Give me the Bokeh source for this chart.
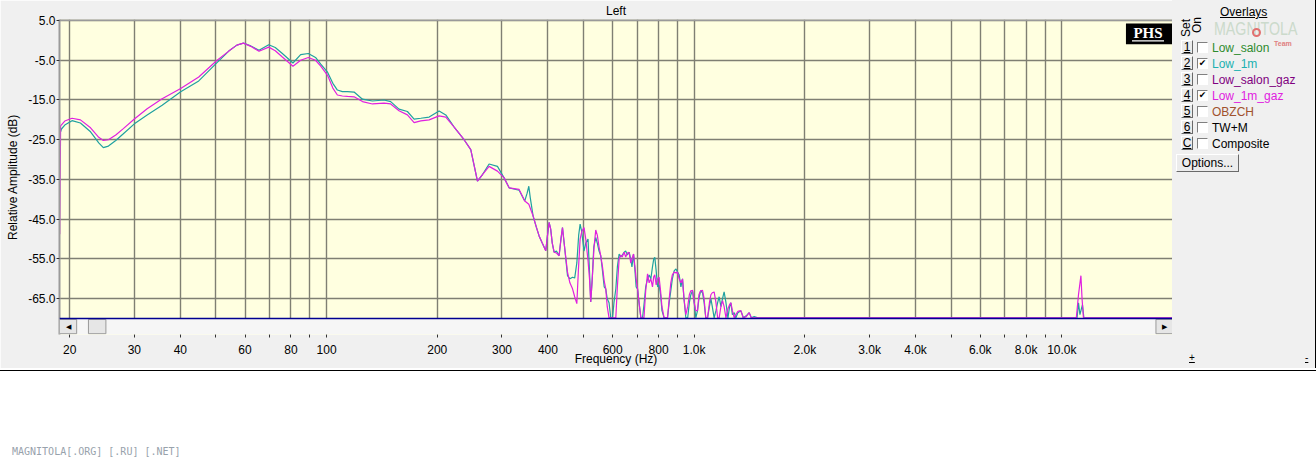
from bokeh.plotting import figure
from bokeh.models import (ColumnDataSource, FixedTicker, Range1d, Span, BoxAnnotation,
                          Label, Div, CustomJSTickFormatter)
from bokeh.layouts import row, column
from bokeh.embed import file_html
from bokeh.resources import INLINE

# ---------------- data (frequency Hz, relative amplitude dB) ----------------
low_1m = [
    (18.9, -23.0), (19.0, -22.3), (19.4, -21.3), (20.3, -20.2), (21.4, -20.8), (22.8, -23.0),
    (24.0, -25.8), (24.7, -27.0), (25.5, -26.6), (26.7, -25.2), (28.0, -23.5), (30.0, -21.0),
    (32.5, -18.8), (35.7, -16.3), (40.1, -12.9), (44.9, -10.2), (50.1, -5.8), (54.2, -2.7),
    (57.0, -1.2), (59.4, -0.7), (62.2, -1.4), (65.5, -2.5), (69.6, -1.1), (72.5, -1.8),
    (75.8, -3.3), (81.0, -5.7), (85.0, -3.6), (89.2, -3.3), (93.3, -4.3), (96.4, -6.0),
    (100.6, -8.0), (104.0, -10.8), (107.0, -12.5), (110.4, -12.9), (114.0, -12.9), (118.8, -13.0),
    (125.2, -14.8), (133.3, -15.25), (143.3, -15.0), (149.4, -15.4), (157.4, -17.3), (165.9, -17.9),
    (173.0, -19.8), (180.4, -19.6), (190.1, -19.3), (202.3, -17.75), (211.0, -18.75), (222.3, -21.8),
    (236.6, -25.0), (246.7, -27.5), (257.3, -35.4), (265.5, -33.75), (276.7, -31.1), (291.6, -31.7),
    (304.0, -34.6), (313.7, -37.1), (334.0, -37.7), (346.0, -40.4), (351.0, -38.5), (354.9, -36.7),
    (358.0, -39.5), (364.6, -44.2), (372.0, -47.0), (378.5, -49.2), (386.0, -51.0), (394.7, -52.9),
    (399.0, -49.0), (403.0, -45.8), (407.0, -47.5), (411.0, -51.0), (415.8, -53.3), (422.0, -53.0),
    (429.0, -54.2), (434.0, -50.0), (438.2, -47.1), (444.0, -52.0), (452.2, -59.2), (459.0, -60.0),
    (466.7, -59.6), (473.0, -59.8), (479.4, -56.0), (485.0, -49.0), (489.4, -46.25), (494.0, -48.0),
    (501.5, -53.0), (507.0, -51.0), (514.2, -50.0), (519.0, -58.0), (523.0, -65.8), (528.0, -60.0),
    (533.0, -52.0), (539.7, -49.6), (545.0, -51.0), (551.0, -53.0), (556.9, -54.2), (563.0, -58.0),
    (569.0, -62.0), (574.6, -62.5), (580.0, -65.0), (586.6, -66.0), (593.0, -69.8), (599.5, -69.8),
    (605.0, -66.0), (612.0, -62.5), (618.0, -57.0), (624.8, -53.75), (631.0, -54.5), (637.0, -54.0),
    (644.7, -53.3), (651.0, -53.0), (658.0, -54.0), (665.2, -53.3), (672.0, -55.0), (677.0, -57.0),
    (683.8, -53.75), (690.0, -58.0), (695.0, -62.0), (701.2, -62.5), (710.0, -67.0), (716.0, -69.8),
    (723.5, -69.8), (731.0, -66.0), (738.0, -62.0), (746.5, -60.0), (754.0, -59.0), (762.1, -60.0),
    (770.0, -57.0), (776.0, -55.0), (781.3, -54.6), (788.0, -58.0), (795.0, -62.0), (802.6, -61.5),
    (810.0, -64.0), (817.0, -68.0), (828.1, -69.8), (846.0, -69.8), (855.0, -66.0), (863.7, -63.0),
    (872.0, -60.0), (882.0, -58.0), (892.0, -57.5), (900.7, -58.3), (910.0, -59.0), (920.0, -62.0),
    (929.4, -60.0), (938.0, -65.0), (948.9, -69.8), (960.0, -69.8), (970.0, -66.0), (979.0, -64.0),
    (989.5, -63.0), (1000.0, -66.0), (1010.0, -69.8), (1020.9, -68.0), (1030.0, -65.0), (1041.0, -63.0),
    (1053.4, -63.5), (1064.0, -66.0), (1075.0, -69.8), (1087.0, -69.8), (1100.0, -67.0), (1110.0, -65.0),
    (1120.0, -67.0), (1133.0, -69.8), (1146.0, -68.0), (1158.0, -66.0), (1169.0, -64.5), (1182.0, -67.0),
    (1194.0, -65.0), (1206.0, -63.3), (1220.0, -66.0), (1235.0, -69.8), (1248.0, -67.0), (1258.0, -66.0),
    (1270.0, -69.0), (1285.0, -68.5), (1298.0, -69.8), (1315.0, -68.5), (1339.0, -68.0), (1360.0, -69.8),
    (1385.0, -69.3), (1411.0, -68.5), (1430.0, -69.8), (1456.0, -69.5), (1490.0, -69.8), (11000.0, -69.8),
    (11100.0, -66.0), (11200.0, -69.0), (11380.0, -66.5), (11480.0, -69.8), (20000.0, -69.8),
]

low_1m_gaz = [
    (18.8, -48.8), (18.9, -21.5), (19.4, -20.3), (20.3, -19.6), (21.4, -20.0), (22.8, -22.0),
    (24.0, -24.4), (24.7, -25.2), (25.5, -25.0), (26.7, -23.8), (28.0, -22.2), (30.0, -19.8),
    (32.5, -17.2), (35.7, -14.7), (40.1, -12.1), (44.9, -9.2), (50.1, -5.2), (54.2, -2.7),
    (57.0, -1.2), (59.4, -0.7), (62.2, -1.5), (65.5, -2.75), (69.6, -1.7), (72.5, -2.6),
    (75.8, -4.2), (81.0, -6.5), (85.0, -5.0), (89.2, -4.3), (93.3, -5.0), (96.4, -6.5),
    (100.6, -8.8), (104.0, -12.0), (107.0, -13.75), (110.4, -14.0), (114.0, -14.1), (118.8, -14.2),
    (125.2, -15.4), (133.3, -16.0), (143.3, -15.8), (149.4, -16.0), (157.4, -17.7), (165.9, -18.75),
    (173.0, -20.7), (180.4, -20.25), (190.1, -20.0), (202.3, -19.0), (211.0, -19.3), (222.3, -21.8),
    (236.6, -25.0), (246.7, -27.5), (257.3, -35.4), (265.5, -33.75), (276.7, -31.7), (291.6, -32.9),
    (304.0, -34.6), (313.7, -37.1), (334.0, -37.5), (346.0, -40.4), (354.9, -41.25), (364.6, -44.2),
    (372.0, -47.0), (378.5, -49.2), (386.0, -51.0), (394.7, -52.9), (399.0, -49.0), (403.0, -45.8),
    (407.0, -47.5), (411.0, -51.0), (415.8, -53.3), (422.0, -53.5), (429.0, -54.2), (434.0, -50.0),
    (438.2, -47.1), (444.0, -52.0), (452.2, -58.3), (459.0, -61.0), (466.7, -62.5), (473.0, -64.5),
    (479.4, -66.25), (484.0, -58.0), (489.4, -50.0), (495.0, -48.0), (501.5, -47.1), (507.0, -50.0),
    (514.2, -55.4), (519.0, -60.0), (523.0, -65.8), (528.0, -60.0), (534.0, -52.0), (539.7, -47.7),
    (545.0, -49.0), (551.0, -52.0), (556.9, -54.2), (563.0, -57.0), (569.0, -60.5), (574.6, -62.5),
    (580.0, -67.0), (586.6, -69.8), (599.5, -69.8), (612.0, -69.8), (618.0, -62.0), (624.8, -55.0),
    (631.0, -54.0), (637.0, -54.5), (644.7, -53.3), (651.0, -54.5), (658.0, -53.5), (665.2, -53.3),
    (672.0, -56.0), (677.0, -55.0), (683.8, -53.75), (690.0, -57.0), (695.0, -60.0), (701.2, -62.5),
    (710.0, -67.0), (716.0, -69.8), (730.0, -69.8), (738.0, -63.0), (746.5, -58.75), (754.0, -61.0),
    (762.1, -60.0), (770.0, -62.0), (776.0, -59.5), (781.3, -59.0), (788.0, -61.5), (795.0, -60.0),
    (802.6, -59.6), (810.0, -63.0), (817.0, -67.0), (828.1, -69.8), (846.0, -69.8), (855.0, -65.0),
    (863.7, -61.0), (872.0, -59.0), (882.0, -58.3), (892.0, -58.5), (900.7, -58.3), (910.0, -60.0),
    (920.0, -61.0), (929.4, -60.0), (938.0, -65.0), (948.9, -69.0), (960.0, -67.0), (970.0, -64.0),
    (979.0, -63.0), (989.5, -62.9), (1000.0, -66.0), (1010.0, -68.0), (1020.9, -68.0), (1030.0, -64.0),
    (1041.0, -63.0), (1053.4, -62.9), (1064.0, -65.0), (1075.0, -69.8), (1087.0, -69.8), (1100.0, -66.0),
    (1110.0, -64.0), (1120.0, -63.5), (1133.0, -63.3), (1146.0, -66.0), (1158.0, -69.8), (1169.0, -69.8),
    (1182.0, -67.0), (1194.0, -65.5), (1206.0, -67.0), (1220.0, -69.8), (1235.0, -67.5), (1248.0, -66.5),
    (1258.0, -66.0), (1270.0, -68.0), (1285.0, -69.8), (1298.0, -69.0), (1315.0, -68.2), (1339.0, -68.0),
    (1360.0, -69.8), (1385.0, -69.5), (1411.0, -68.5), (1430.0, -69.8), (1520.0, -69.8), (10950.0, -69.8),
    (11100.0, -64.0), (11270.0, -59.2), (11350.0, -65.0), (11450.0, -69.8), (20000.0, -69.8),
]

x_ticks = [20, 30, 40, 50, 60, 70, 80, 90, 100, 200, 300, 400, 500, 600, 700, 800, 900,
           1000, 2000, 3000, 4000, 5000, 6000, 7000, 8000, 9000, 10000, 20000]
x_tick_labels = ["20", "30", "40", "", "60", "", "80", "", "100", "200", "300", "400", "",
                 "600", "", "800", "", "1.0k", "2.0k", "3.0k", "4.0k", "", "6.0k", "", "8.0k",
                 "", "10.0k", ""]
y_ticks = [5, -5, -15, -25, -35, -45, -55, -65]
y_tick_labels = ["5.0", "-5.0", "-15.0", "-25.0", "-35.0", "-45.0", "-55.0", "-65.0"]

overlay_keys = ["1", "2", "3", "4", "5", "6", "C"]
overlay_names = ["Low_salon", "Low_1m", "Low_salon_gaz", "Low_1m_gaz", "OBZCH", "TW+M", "Composite"]
overlay_on = [False, True, False, True, False, False, False]
overlay_colors = ["#2E8B2E", "#20B0B0", "#800080", "#E020E0", "#A0522D", "#000000", "#000000"]

TEAL = "#20A0A0"
MAGENTA = "#E020E0"
FONT = "Liberation Sans"
BG = "#F0F0F0"
H_TOP = 368

# ---------------- main chart ----------------
p = figure(width=1172, height=H_TOP, x_axis_type="log",
           x_range=Range1d(18.77, 20000), y_range=Range1d(-74, 5.25),
           output_backend="svg", toolbar_location=None,
           min_border_left=59, min_border_right=0, min_border_top=19, min_border_bottom=H_TOP - 336)
p.background_fill_color = "#FFFFE0"
p.border_fill_color = BG
p.outline_line_color = None

p.title.text = "Left"
p.title.align = "center"
p.title.text_font = FONT
p.title.text_font_size = "12px"
p.title.text_font_style = "normal"
p.title.text_color = "black"
p.title.standoff = 3
p.title.offset = 0

p.xaxis.ticker = FixedTicker(ticks=x_ticks)
p.xaxis.formatter = CustomJSTickFormatter(
    args=dict(t=x_ticks, l=x_tick_labels),
    code="for (let i = 0; i < t.length; i++) { if (Math.abs(t[i] - tick) < 1e-6 * t[i]) return l[i]; } return '';")
p.yaxis.ticker = FixedTicker(ticks=y_ticks)
p.yaxis.formatter = CustomJSTickFormatter(
    args=dict(t=y_ticks, l=y_tick_labels),
    code="for (let i = 0; i < t.length; i++) { if (Math.abs(t[i] - tick) < 1e-6) return l[i]; } return '';")

for ax in (p.xaxis[0], p.yaxis[0]):
    ax.major_label_text_font = FONT
    ax.major_label_text_font_size = "12px"
    ax.major_label_text_color = "#000000"
    ax.axis_label_text_font = FONT
    ax.axis_label_text_font_size = "12px"
    ax.axis_label_text_font_style = "normal"
    ax.axis_label_text_color = "#000000"
    ax.minor_tick_line_color = None
    ax.major_tick_line_color = "#303030"
    ax.major_tick_in = 0
    ax.major_tick_out = 3
p.xaxis.axis_label = "Frequency (Hz)"
p.xaxis.axis_line_color = None
p.xaxis.major_label_standoff = 5
p.xaxis.axis_label_standoff = -8
p.yaxis.axis_label = "Relative Amplitude (dB)"
p.yaxis.axis_line_color = "#9A9A9A"
p.yaxis.axis_line_width = 2
p.yaxis.major_label_standoff = 1
p.yaxis.axis_label_standoff = 5

p.grid.grid_line_color = "#7F7F73"
p.grid.grid_line_width = 1.4

src_a = ColumnDataSource(dict(f=[v[0] for v in low_1m], db=[v[1] for v in low_1m]))
src_b = ColumnDataSource(dict(f=[v[0] for v in low_1m_gaz], db=[v[1] for v in low_1m_gaz]))
p.line("f", "db", source=src_a, line_color=TEAL, line_width=1.2)
p.line("f", "db", source=src_b, line_color=MAGENTA, line_width=1.2)

# frame decorations: top border, scroll bar, bottom blue line
p.add_layout(Span(location=5.1, dimension="width", line_color="#9A9A9A", line_width=2))
p.add_layout(BoxAnnotation(bottom=-74, top=-70, fill_color="#F6F6F6", fill_alpha=1, line_color=None))
for l_, r_ in ((18.77, 20.9), (22.5, 25.1), (18030, 20000)):
    p.add_layout(BoxAnnotation(left=l_, right=r_, bottom=-73.8, top=-70.2, fill_color="#E6E6E6",
                               fill_alpha=1, line_color="#9A9A9A", line_alpha=1))
p.add_layout(Label(x=19.8, y=-72, text="\u25C0", text_font_size="7px", text_align="center",
                   text_baseline="middle", text_color="black"))
p.add_layout(Label(x=19020, y=-72, text="\u25B6", text_font_size="7px", text_align="center",
                   text_baseline="middle", text_color="black"))
p.add_layout(Span(location=-70, dimension="width", line_color="#000090", line_width=1.5))

# PHS badge
p.add_layout(BoxAnnotation(left=14942, right=20000, top=4.25, bottom=-1.0, fill_color="black",
                           fill_alpha=1, line_color=None))
p.add_layout(Label(x=17154, y=1.9, text="PHS", text_font="Liberation Serif", text_font_style="bold",
                   text_font_size="15px", text_color="white", text_align="center", text_baseline="middle"))
p.add_layout(BoxAnnotation(left=15516, right=18966, top=0.05, bottom=-0.3, fill_color="white",
                           fill_alpha=1, line_color=None))

# ---------------- right overlay panel (HTML) ----------------
BTN = ("position:absolute; box-sizing:border-box; border:1px solid; "
       "border-color:#FFFFFF #6A6A6A #6A6A6A #FFFFFF; background:#ECECEC; text-align:center;")
parts = []
parts.append('<div style="position:absolute; left:42px; top:20px; height:19px; font-size:18px; line-height:19px; '
             'color:#CBDACB; transform:scaleX(0.79); transform-origin:left top; white-space:nowrap;">'
             'MAGNITOLA</div>')
parts.append('<div style="position:absolute; left:80px; top:28px; width:9px; height:9px; '
             'border:2px solid #E27070; border-radius:50%;"></div>')
parts.append('<div style="position:absolute; left:102px; top:40px; font-size:7px; line-height:8px; '
             'font-weight:bold; color:#E08080;">Team</div>')
parts.append('<div style="position:absolute; left:48px; top:5px; text-decoration:underline;">Overlays</div>')
parts.append('<div style="position:absolute; left:5px; top:21px; width:18px; text-align:center; '
             'transform:rotate(-90deg);">Set</div>')
parts.append('<div style="position:absolute; left:17px; top:18px; width:16px; text-align:center; '
             'transform:rotate(-90deg);">On</div>')
for i, (k, nm, on, c) in enumerate(zip(overlay_keys, overlay_names, overlay_on, overlay_colors)):
    top = 40 + 16 * i
    parts.append(f'<div style="{BTN} left:9px; top:{top}px; width:12px; height:14px; line-height:12px; '
                 f'text-decoration:underline;">{k}</div>')
    mark = "\u2714" if on else ""
    parts.append(f'<div style="position:absolute; box-sizing:border-box; left:25px; top:{top + 2}px; '
                 f'width:11px; height:11px; border:1px solid; border-color:#808080 #FFFFFF #FFFFFF #808080; '
                 f'background:#FFFFFF; font-size:9px; line-height:9px; text-align:center; '
                 f'font-family:\'DejaVu Sans\';">{mark}</div>')
    parts.append(f'<div style="position:absolute; left:40px; top:{top + 1}px; color:{c}; '
                 f'white-space:nowrap;">{nm}</div>')
parts.append(f'<div style="{BTN} left:4px; top:154px; width:63px; height:18px; line-height:16px;">Options...</div>')
parts.append('<div style="position:absolute; left:17px; top:351px; font-size:10px; text-decoration:underline;">+</div>')
parts.append('<div style="position:absolute; left:133px; top:351px; font-size:10px; text-decoration:underline;">-</div>')

panel = Div(text=(f'<div style="position:relative; width:144px; height:{H_TOP}px; box-sizing:border-box; '
                  f'background:{BG}; border-right:1px solid #000; font-family:\'{FONT}\'; font-size:12px; '
                  f'line-height:14px; color:#000;">' + "".join(parts) + '</div>'),
            width=144, height=H_TOP, margin=(0, 0, 0, 0))

footer = Div(text='<div style="width:1316px; height:1px; background:#000;"></div>'
                  '<div style="position:relative; top:75px; left:12px; font-family:\'DejaVu Sans Mono\';'
                  ' font-size:10px; line-height:12px; color:#98A2AC; white-space:nowrap;">'
                  'MAGNITOLA[.ORG] [.RU] [.NET]</div>',
             width=1316, height=460 - H_TOP, margin=(0, 0, 0, 0))

layout = column(row(p, panel), footer)
open("out.html", "w").write(file_html(layout, INLINE))
